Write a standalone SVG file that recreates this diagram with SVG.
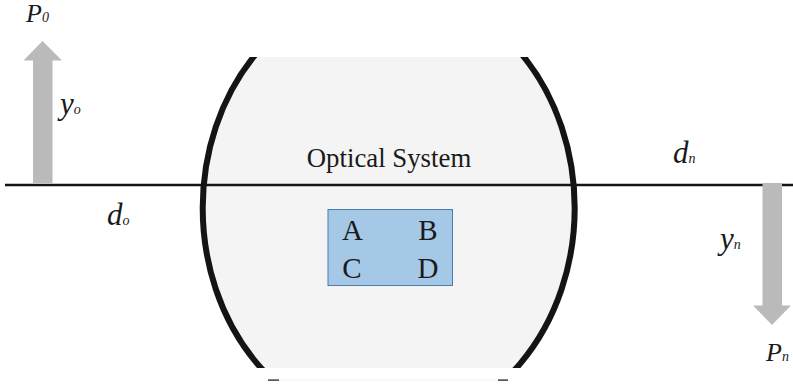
<svg xmlns="http://www.w3.org/2000/svg" width="793" height="387" viewBox="0 0 793 387">
  <style>
    text { font-family: "Liberation Serif", "Times New Roman", serif; fill: #1a1a1a; }
    .main { font-size: 26.8px; }
    .cell { font-size: 29px; text-anchor: middle; }
    .it { font-style: italic; font-size: 31px; }
    .itp { font-style: italic; font-size: 26px; }
    .sub { font-style: italic; font-size: 14px; }
    .arrow { fill: #bababa; }
    .wire { fill: none; stroke: #141414; }
  </style>
  <defs>
    <clipPath id="lensClip"><rect x="190" y="57" width="400" height="311"/></clipPath>
  </defs>
  <rect width="793" height="387" fill="#ffffff"/>
  <g id="optical-system">
    <g clip-path="url(#lensClip)">
      <ellipse cx="388.700" cy="208" rx="186" ry="220" fill="#f4f4f4" stroke="#141414" stroke-width="6"/>
    </g>
    <rect x="268" y="379.500" width="240" height="1" fill="#f0f0f0"/>
    <rect x="268" y="379.500" width="11" height="1.200" fill="#141414"/>
    <rect x="498" y="379.500" width="10" height="1.200" fill="#141414"/>
    <text class="main" x="389" y="167" text-anchor="middle">Optical System</text>
  </g>
  <g id="connectors">
    <line class="wire" x1="5" y1="185" x2="793" y2="185" stroke-width="2.500"/>
  </g>
  <g id="matrix">
    <rect x="328" y="209.500" width="124.500" height="76" fill="#a6c8e7" stroke="#4a7cab" stroke-width="1"/>
    <text class="cell" x="352.500" y="240">A</text>
    <text class="cell" x="428" y="240">B</text>
    <text class="cell" x="352" y="278">C</text>
    <text class="cell" x="428" y="278">D</text>
  </g>
  <g id="input-arrow">
    <polygon class="arrow" points="42.500,41 62,60.500 52.500,60.500 52.500,183 33,183 33,60.500 23.500,60.500"/>
    <text class="itp" x="26" y="22">P<tspan class="sub">0</tspan></text>
    <text class="it" x="60" y="113.500">y<tspan class="sub">o</tspan></text>
  </g>
  <g id="output-arrow">
    <polygon class="arrow" points="772,325 753,305.500 762.500,305.500 762.500,183 782,183 782,305.500 791,305.500"/>
    <text class="itp" x="766" y="360.500">P<tspan class="sub">n</tspan></text>
    <text class="it" x="720" y="248.500">y<tspan class="sub">n</tspan></text>
  </g>
  <g id="labels">
    <text class="it" x="107" y="225">d<tspan class="sub">o</tspan></text>
    <text class="it" x="673" y="163">d<tspan class="sub">n</tspan></text>
  </g>
</svg>
